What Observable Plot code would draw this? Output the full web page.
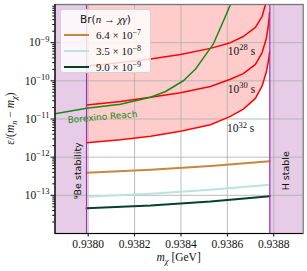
<!DOCTYPE html>
<html><head><meta charset="utf-8">
<script src="https://cdn.jsdelivr.net/npm/d3@7"></script>
<script src="https://cdn.jsdelivr.net/npm/@observablehq/plot@0.6"></script>
<style>
body{margin:0;background:#fff}
#wrap{position:relative;width:307px;height:271px}
#legend{position:absolute;left:60px;top:9px;width:91px;height:64px;background:rgba(255,255,255,0.82);border:1px solid #d4d4d4;border-radius:3px;box-sizing:border-box;font-family:"Liberation Serif",serif;font-size:11px;color:#111}
#legend .t{position:absolute;left:0;right:0;top:2px;text-align:center;line-height:14px}
#legend .row{position:absolute;left:0;right:0;height:14px;line-height:14px}
#legend .sw{position:absolute;left:3px;width:25px;height:2.2px;top:6px}
#legend .lab{position:absolute;left:35px;top:0;white-space:nowrap}
#legend sup{font-size:8px;vertical-align:0;position:relative;top:-4px}
.sans{font-family:"DejaVu Sans",sans-serif;font-size:10.5px}
</style></head>
<body><div id="wrap"></div>
<script>
// ---- data ----
const X_DOMAIN = [0.937857, 0.938927];
const Y_DOMAIN = [1e-14, 1e-8];
const X_TICKS = [0.9380, 0.9382, 0.9384, 0.9386, 0.9388];
const Y_MAJOR = [1e-13, 1e-12, 1e-11, 1e-10, 1e-9];
const BE_LIMIT = 0.937993;   // 9Be stability
const H_LIMIT = 0.938783;    // H stable

// lifetime contours (shared x grid)
const tauX   = [0.937993, 0.938139, 0.938269, 0.938398, 0.938527, 0.938613, 0.938669, 0.938721, 0.938750, 0.938768, 0.938777, 0.938782];
const tau28Y = [2.40e-10, 3.02e-10, 3.72e-10, 4.90e-10, 7.08e-10, 1.00e-9, 1.45e-9, 2.51e-9, 4.90e-9, 1.20e-8, 2.82e-8, 6.17e-8];
const tau30Y = [2.34e-11, 2.88e-11, 3.72e-11, 4.90e-11, 7.08e-11, 1.10e-10, 1.55e-10, 2.69e-10, 5.50e-10, 1.29e-9, 2.82e-9, 6.17e-9];
const tau32Y = [2.40e-12, 2.88e-12, 3.55e-12, 4.79e-12, 7.08e-12, 1.17e-11, 1.82e-11, 3.47e-11, 7.41e-11, 1.70e-10, 3.31e-10, 5.75e-10];
const tauLabels = ["10^28 s", "10^30 s", "10^32 s"];
const tauLabelX = [0.938661, 0.938661, 0.938657];
const tauLabelY = [5.9e-10, 5.9e-11, 5.6e-12];

// Borexino reach
const borX = [0.937857, 0.937993, 0.938139, 0.938269, 0.938334, 0.938412, 0.938463, 0.938497, 0.938540, 0.938584, 0.938615];
const borY = [1.38e-11, 1.91e-11, 2.45e-11, 3.72e-11, 5.25e-11, 1.02e-10, 2.04e-10, 3.98e-10, 9.33e-10, 3.80e-9, 1.05e-8];

// Br(n -> chi gamma) lines
const brX = [0.937993, 0.938269, 0.938527, 0.938783];
const brNames = ["6.4 × 10^−7", "3.5 × 10^−8", "9.0 × 10^−9"];
const brColors = ["#c8873a", "#b9e4dc", "#08402c"];
const br1Y = [3.90e-13, 4.67e-13, 5.87e-13, 7.85e-13];
const br2Y = [9.16e-14, 1.10e-13, 1.40e-13, 1.89e-13];
const br3Y = [4.60e-14, 5.42e-14, 6.90e-14, 9.50e-14];

// ---- build rows ----
const rows = (xs, ys) => xs.map((x, i) => ({x, y: ys[i]}));
const regions = [
  {x1: X_DOMAIN[0], x2: BE_LIMIT, y1: Y_DOMAIN[0], y2: Y_DOMAIN[1]},
  {x1: H_LIMIT, x2: X_DOMAIN[1], y1: Y_DOMAIN[0], y2: Y_DOMAIN[1]}
];
const fillRows = tauX.map((x, i) => ({x, y1: tau32Y[i], y2: Y_DOMAIN[1]}));
const minor = [];
for (let k = -14; k <= -9; k++) for (let m = 2; m <= 9; m++) {
  const v = m * Math.pow(10, k);
  if (v > Y_DOMAIN[0] && v < Y_DOMAIN[1]) minor.push(v);
}
const tauLabelRows = tauLabels.map((t, i) => ({t, x: tauLabelX[i], y: tauLabelY[i]}));
const brSeries = [br1Y, br2Y, br3Y];

const yFmt = d => "10^" + "−" + Math.round(-Math.log10(d));

const plot = Plot.plot({
  width: 307, height: 271,
  marginLeft: 54.5, marginRight: 4.3, marginTop: 4, marginBottom: 38,
  x: {domain: X_DOMAIN},
  y: {type: "log", domain: Y_DOMAIN},
  style: {fontFamily: "'Liberation Serif', serif", fontSize: "11.5px", background: "white", color: "#111"},
  marks: [
    Plot.rect(regions, {x1: "x1", x2: "x2", y1: "y1", y2: "y2", fill: "#800080", fillOpacity: 0.2}),
    Plot.areaY(fillRows, {x: "x", y1: "y1", y2: "y2", fill: "#ff0000", fillOpacity: 0.2}),
    Plot.ruleX(X_TICKS, {stroke: "#b0b0b0", strokeWidth: 1, strokeOpacity: 0.85}),
    Plot.ruleY(Y_MAJOR, {stroke: "#b0b0b0", strokeWidth: 1, strokeOpacity: 0.85}),
    ...brSeries.map((ys, i) => Plot.line(rows(brX, ys), {x: "x", y: "y", stroke: brColors[i], strokeWidth: 2})),
    ...[tau28Y, tau30Y, tau32Y].map(ys => Plot.line(rows(tauX, ys), {x: "x", y: "y", stroke: "#ff0000", strokeWidth: 1.5, clip: true})),
    Plot.line(rows(borX, borY), {x: "x", y: "y", stroke: "#158a15", strokeWidth: 1.5, clip: true}),
    Plot.ruleX([BE_LIMIT, H_LIMIT], {stroke: "#a030b0", strokeWidth: 1.2}),
    Plot.text(tauLabelRows, {x: "x", y: "y", text: "t", fill: "#111", fontSize: 11.5}),
    Plot.text(["Borexino Reach"], {x: 0.938062, y: 1.12e-11, text: d => d, rotate: -5, fill: "#158a15", fontFamily: "'DejaVu Sans', sans-serif", fontSize: 9}),
    Plot.text(["⁹Be stability"], {x: 0.937958, y: 4.4e-13, text: d => d, rotate: -90, fill: "#111", fontFamily: "'DejaVu Sans', sans-serif", fontSize: 9.5}),
    Plot.text(["H stable"], {x: 0.938853, y: 4.4e-13, text: d => d, rotate: -90, fill: "#111", fontFamily: "'DejaVu Sans', sans-serif", fontSize: 9.5}),
    Plot.frame({stroke: "#777", strokeWidth: 1.3}),
    Plot.ruleX([X_DOMAIN[0]], {stroke: "#000", strokeWidth: 1.2}),
    Plot.ruleY([Y_DOMAIN[0]], {stroke: "#000", strokeWidth: 1.2}),
    Plot.axisX(X_TICKS, {tickSize: 3.5, tickPadding: 3, tickFormat: d3.format(".4f"), label: null, stroke: "#000"}),
    Plot.axisY(Y_MAJOR, {tickSize: 4, tickPadding: 1.5, tickFormat: yFmt, label: null, stroke: "#000"}),
    Plot.axisY(minor, {tickSize: 2.2, tickFormat: () => "", label: null, stroke: "#000"})
  ]
});

document.getElementById("wrap").appendChild(plot);

// superscripts in SVG text
const NS = "http://www.w3.org/2000/svg";
d3.select(plot).selectAll("text").each(function() {
  const s = this.textContent;
  const m = s.match(/^(.*?)10\^([−\-]?\d+)(.*)$/);
  if (!m) return;
  while (this.firstChild) this.removeChild(this.firstChild);
  if (m[1]) this.appendChild(document.createTextNode(m[1]));
  this.appendChild(document.createTextNode("10"));
  const sup = document.createElementNS(NS, "tspan");
  sup.setAttribute("dy", "-4.8");
  sup.setAttribute("font-size", "8.5");
  sup.textContent = m[2];
  this.appendChild(sup);
  const rest = document.createElementNS(NS, "tspan");
  rest.setAttribute("dy", "4.8");
  rest.textContent = m[3] || "";
  this.appendChild(rest);
});

// axis titles
const svg = d3.select(plot);
const ylab = svg.append("text")
  .attr("transform", "translate(14,118.5) rotate(-90)")
  .attr("text-anchor", "middle")
  .attr("font-family", "'Liberation Serif', serif")
  .attr("font-size", 11.5).attr("fill", "#111");
ylab.append("tspan").attr("font-style", "italic").text("ε");
ylab.append("tspan").text("/(");
ylab.append("tspan").attr("font-style", "italic").text("m");
ylab.append("tspan").attr("font-style", "italic").attr("font-size", 8.5).attr("dy", 2.5).text("n");
ylab.append("tspan").attr("dy", -2.5).text(" − ");
ylab.append("tspan").attr("font-style", "italic").text("m");
ylab.append("tspan").attr("font-style", "italic").attr("font-size", 8.5).attr("dy", 2.5).text("χ");
ylab.append("tspan").attr("dy", -2.5).text(")");

const xlab = svg.append("text")
  .attr("x", 178.6).attr("y", 261)
  .attr("text-anchor", "middle")
  .attr("font-family", "'Liberation Serif', serif")
  .attr("font-size", 11.5).attr("fill", "#111");
xlab.append("tspan").attr("font-style", "italic").text("m");
xlab.append("tspan").attr("font-style", "italic").attr("font-size", 8.5).attr("dy", 2.5).text("χ");
xlab.append("tspan").attr("dy", -2.5).text(" [GeV]");

// legend
const lg = document.createElement("div");
lg.id = "legend";
let html = '<div class="t"><span class="sans">Br(</span><i>n</i> → <i>χγ</i><span class="sans">)</span></div>';
const rowTops = [18, 34, 49.5];
brNames.forEach((n, i) => {
  const [a, b] = n.split("^");
  html += `<div class="row" style="top:${rowTops[i]}px"><span class="sw" style="background:${brColors[i]}"></span><span class="lab">${a}<sup>${b}</sup></span></div>`;
});
lg.innerHTML = html;
document.getElementById("wrap").appendChild(lg);
</script>
</body></html>
